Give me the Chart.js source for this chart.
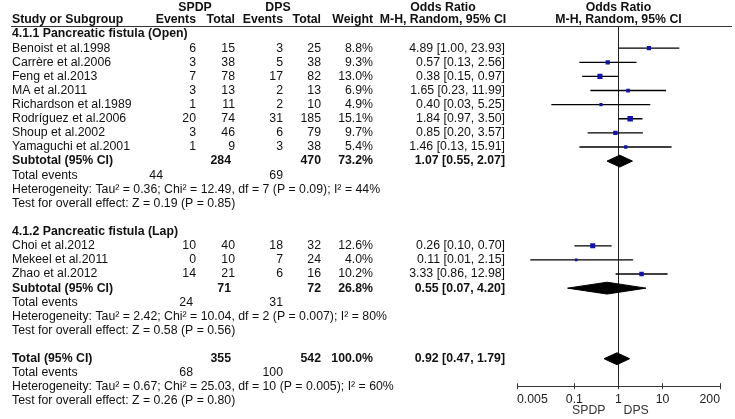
<!DOCTYPE html>
<html>
<head>
<meta charset="utf-8">
<script src="https://cdn.jsdelivr.net/npm/chart.js@4.4.0/dist/chart.umd.min.js"></script>
<style>
  html, body { margin: 0; padding: 0; background: #fff; }
  canvas { display: block; }
</style>
</head>
<body>
<canvas id="forestPlot" width="735" height="419"></canvas>
<script>
(function() {
'use strict';

// ---- study level data ----
const studyNames = ['Benoist et al.1998', 'Carrère et al.2006', 'Feng et al.2013', 'MA et al.2011',
  'Richardson et al.1989', 'Rodríguez et al.2006', 'Shoup et al.2002', 'Yamaguchi et al.2001',
  'Choi et al.2012', 'Mekeel et al.2011', 'Zhao et al.2012'];
const studyGroup = [0, 0, 0, 0, 0, 0, 0, 0, 1, 1, 1];
const spdpEvents = [6, 3, 7, 3, 1, 20, 3, 1, 10, 0, 14];
const spdpTotal = [15, 38, 78, 13, 11, 74, 46, 9, 40, 10, 21];
const dpsEvents = [3, 5, 17, 2, 2, 31, 6, 3, 18, 7, 6];
const dpsTotal = [25, 38, 82, 13, 10, 185, 79, 38, 32, 24, 16];
const weights = [8.8, 9.3, 13.0, 6.9, 4.9, 15.1, 9.7, 5.4, 12.6, 4.0, 10.2];
const oddsRatio = [4.89, 0.57, 0.38, 1.65, 0.40, 1.84, 0.85, 1.46, 0.26, 0.11, 3.33];
const ciLow = [1.00, 0.13, 0.15, 0.23, 0.03, 0.97, 0.20, 0.13, 0.10, 0.01, 0.86];
const ciHigh = [23.93, 2.56, 0.97, 11.99, 5.25, 3.50, 3.57, 15.91, 0.70, 2.15, 12.98];

// ---- pooled data (subgroup 1, subgroup 2, overall) ----
const groupTitles = ['4.1.1 Pancreatic fistula (Open)', '4.1.2 Pancreatic fistula (Lap)'];
const pooledNames = ['Subtotal (95% CI)', 'Subtotal (95% CI)', 'Total (95% CI)'];
const pooledSpdpTotal = [284, 71, 355];
const pooledDpsTotal = [470, 72, 542];
const pooledWeight = [73.2, 26.8, 100.0];
const pooledOR = [1.07, 0.55, 0.92];
const pooledLow = [0.55, 0.07, 0.47];
const pooledHigh = [2.07, 4.20, 1.79];
const pooledSpdpEvents = [44, 24, 68];
const pooledDpsEvents = [69, 31, 100];
const heterogeneity = [
  'Heterogeneity: Tau² = 0.36; Chi² = 12.49, df = 7 (P = 0.09); I² = 44%',
  'Heterogeneity: Tau² = 2.42; Chi² = 10.04, df = 2 (P = 0.007); I² = 80%',
  'Heterogeneity: Tau² = 0.67; Chi² = 25.03, df = 10 (P = 0.005); I² = 60%'
];
const overallEffect = [
  'Test for overall effect: Z = 0.19 (P = 0.85)',
  'Test for overall effect: Z = 0.58 (P = 0.56)',
  'Test for overall effect: Z = 0.26 (P = 0.80)'
];
const xTicks = [0.005, 0.1, 1, 10, 200];

// ---- layout (pixels) ----
const FONT = '"Liberation Sans", Arial, sans-serif';
const FS = 12.3;
const COL = { name: 12, evA: 196, totA: 235, evB: 283, totB: 321, weight: 373, or: 505, orHead: 443 };
const TOTAL_EVENTS_A = [163, 193, 193];
const ROW_MIN = -0.5, ROW_MAX = 24.95;
const DIAMOND_H = 0.42;

// build row list
const rows = [];
const studyRow = [];
const pooledRow = [];
for (let g = 0; g < 2; g++) {
  rows.push({ kind: 'title', g: g });
  studyNames.forEach((n, i) => {
    if (studyGroup[i] === g) { studyRow[i] = rows.length; rows.push({ kind: 'study', i: i }); }
  });
  pooledRow[g] = rows.length; rows.push({ kind: 'pooled', k: g });
  rows.push({ kind: 'events', k: g });
  rows.push({ kind: 'het', k: g });
  rows.push({ kind: 'test', k: g });
  rows.push({ kind: 'blank' });
}
pooledRow[2] = rows.length; rows.push({ kind: 'pooled', k: 2 });
rows.push({ kind: 'events', k: 2 });
rows.push({ kind: 'het', k: 2 });
rows.push({ kind: 'test', k: 2 });

const fmtCI = (o, l, h) => o.toFixed(2) + ' [' + l.toFixed(2) + ', ' + h.toFixed(2) + ']';

// datasets
const squareData = oddsRatio.map((o, i) => ({ x: o, y: studyRow[i] }));
const ciData = [];
oddsRatio.forEach((o, i) => {
  ciData.push({ x: ciLow[i], y: studyRow[i] }, { x: ciHigh[i], y: studyRow[i] }, { x: null, y: null });
});
const diamondSets = pooledOR.map((o, k) => {
  const r = pooledRow[k];
  return {
    label: 'pooled' + k,
    data: [{ x: pooledLow[k], y: r }, { x: o, y: r - DIAMOND_H }, { x: pooledHigh[k], y: r },
           { x: o, y: r + DIAMOND_H }, { x: pooledLow[k], y: r }],
    showLine: true, fill: 'shape', backgroundColor: '#000', borderColor: '#000',
    borderWidth: 1, pointRadius: 0, tension: 0
  };
});

const tablePlugin = {
  id: 'forestTable',
  afterDraw(chart) {
    const ctx = chart.ctx;
    const ys = chart.scales.y;
    const xs = chart.scales.x;
    const area = chart.chartArea;
    const bold = 'bold ' + FS + 'px ' + FONT;
    const norm = FS + 'px ' + FONT;
    ctx.save();
    ctx.fillStyle = '#111';
    ctx.textBaseline = 'middle';

    function txt(s, x, y, align, f) {
      ctx.font = f || norm;
      ctx.textAlign = align || 'left';
      ctx.fillText(s, x, y);
    }

    // headers
    const h1 = 8, h2 = 20;
    const x1 = xs.getPixelForValue(1);
    txt('SPDP', 195, h1, 'center', bold);
    txt('DPS', 278, h1, 'center', bold);
    txt('Odds Ratio', COL.orHead, h1, 'center', bold);
    txt('Odds Ratio', x1, h1, 'center', bold);
    txt('Study or Subgroup', COL.name, h2, 'left', bold);
    txt('Events', COL.evA, h2, 'right', bold);
    txt('Total', COL.totA, h2, 'right', bold);
    txt('Events', COL.evB, h2, 'right', bold);
    txt('Total', COL.totB, h2, 'right', bold);
    txt('Weight', COL.weight, h2, 'right', bold);
    txt('M-H, Random, 95% CI', COL.orHead, h2, 'center', bold);
    txt('M-H, Random, 95% CI', x1, h2, 'center', bold);

    ctx.strokeStyle = '#333';
    ctx.lineWidth = 1;
    ctx.beginPath();
    ctx.moveTo(11, 26.5);
    ctx.lineTo(732, 26.5);
    ctx.stroke();

    rows.forEach((row, r) => {
      const y = ys.getPixelForValue(r);
      if (row.kind === 'title') {
        txt(groupTitles[row.g], COL.name, y, 'left', bold);
      } else if (row.kind === 'study') {
        const i = row.i;
        txt(studyNames[i], COL.name, y);
        txt(String(spdpEvents[i]), COL.evA, y, 'right');
        txt(String(spdpTotal[i]), COL.totA, y, 'right');
        txt(String(dpsEvents[i]), COL.evB, y, 'right');
        txt(String(dpsTotal[i]), COL.totB, y, 'right');
        txt(weights[i].toFixed(1) + '%', COL.weight, y, 'right');
        txt(fmtCI(oddsRatio[i], ciLow[i], ciHigh[i]), COL.or, y, 'right');
      } else if (row.kind === 'pooled') {
        const k = row.k;
        txt(pooledNames[k], COL.name, y, 'left', bold);
        txt(String(pooledSpdpTotal[k]), COL.totA - 4, y, 'right', bold);
        txt(String(pooledDpsTotal[k]), COL.totB, y, 'right', bold);
        txt(pooledWeight[k].toFixed(1) + '%', COL.weight, y, 'right', bold);
        txt(fmtCI(pooledOR[k], pooledLow[k], pooledHigh[k]), COL.or, y, 'right', bold);
      } else if (row.kind === 'events') {
        txt('Total events', COL.name, y);
        txt(String(pooledSpdpEvents[row.k]), TOTAL_EVENTS_A[row.k], y, 'right');
        txt(String(pooledDpsEvents[row.k]), COL.evB, y, 'right');
      } else if (row.kind === 'het') {
        txt(heterogeneity[row.k], COL.name, y);
      } else if (row.kind === 'test') {
        txt(overallEffect[row.k], COL.name, y);
      }
    });

    // tick marks above the axis line
    ctx.strokeStyle = '#333';
    xTicks.forEach(v => {
      const px = Math.floor(xs.getPixelForValue(v)) + 0.5;
      ctx.beginPath();
      ctx.moveTo(px, area.bottom - 3);
      ctx.lineTo(px, area.bottom);
      ctx.stroke();
    });

    // favours labels
    ctx.fillStyle = '#333';
    txt('SPDP', x1 - 13, area.bottom + 24, 'right');
    txt('DPS', x1 + 5, area.bottom + 24, 'left');
    ctx.restore();
  }
};

new Chart(document.getElementById('forestPlot'), {
  type: 'scatter',
  data: {
    datasets: [
      {
        label: 'studies',
        data: squareData,
        pointStyle: 'rect',
        pointRadius: c => 1.0 * Math.sqrt(weights[c.dataIndex]),
        backgroundColor: '#1212b0',
        borderWidth: 0,
        showLine: false
      },
      ...diamondSets,
      {
        label: 'ci',
        data: ciData,
        showLine: true,
        spanGaps: false,
        borderColor: '#000',
        borderWidth: 1.3,
        pointRadius: 0
      },
      {
        label: 'no effect',
        data: [{ x: 1, y: ROW_MIN }, { x: 1, y: ROW_MAX }],
        showLine: true,
        borderColor: '#222',
        borderWidth: 1,
        pointRadius: 0
      }
    ]
  },
  options: {
    responsive: false,
    animation: false,
    layout: { padding: { left: 517, right: 15, top: 27, bottom: 9 } },
    plugins: { legend: { display: false }, tooltip: { enabled: false } },
    scales: {
      x: {
        type: 'logarithmic',
        min: 0.005,
        max: 200,
        afterBuildTicks: scale => { scale.ticks = xTicks.map(v => ({ value: v })); },
        ticks: {
          autoSkip: false,
          maxRotation: 0,
          align: 'inner',
          padding: 3,
          color: '#222',
          font: { family: FONT, size: FS },
          callback: v => String(v)
        },
        grid: { drawOnChartArea: false, drawTicks: true, tickLength: 3, color: '#333' },
        border: { display: true, color: '#333', width: 1 }
      },
      y: {
        type: 'linear',
        reverse: true,
        min: ROW_MIN,
        max: ROW_MAX,
        display: false
      }
    }
  },
  plugins: [tablePlugin]
});

})();
</script>
</body>
</html>
